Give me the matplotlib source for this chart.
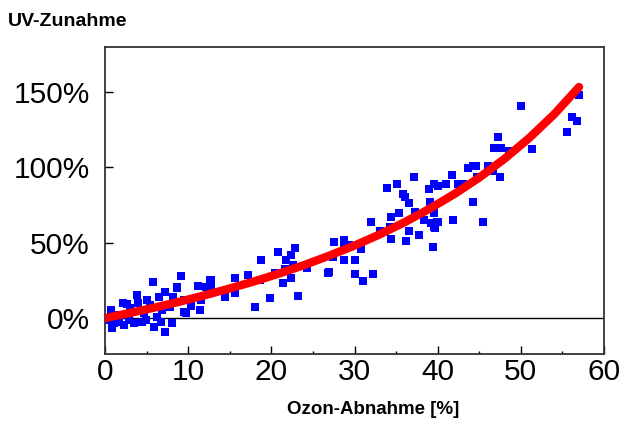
import matplotlib
matplotlib.use("Agg")
import matplotlib.pyplot as plt
from matplotlib.ticker import MultipleLocator, FuncFormatter

# Messpunkte: Ozon-Abnahme [%] vs. UV-Zunahme [%]
ozon = [5.8, 9.1, 8.7, 11.2, 12.6, 12.7, 3.9, 2.2, 4.0, 5.4, 6.5, 7.2, 8.2, 9.5,
        11.5, 11.4, 9.7, 6.9, 6.3, 4.7, 0.7, 1.1, 1.7, 2.9, 4.4, 5.9, 7.2, 8.1,
        0.9, 2.3, 3.5, 4.9, 6.7, 9.5, 8.6, 1.5, 3.0, 0.4, 2.6, 5.0, 7.8, 10.3,
        18.7, 20.8, 22.8, 21.8, 22.4, 22.6, 21.6, 24.3, 26.8, 20.4, 17.2, 15.6,
        12.8, 12.2, 15.6, 14.4, 21.4, 22.4, 18.6, 19.8, 23.2, 18.0,
        37.1, 35.1, 33.9, 35.8, 36.1, 36.5, 38.9, 39.6, 40.0, 39.1, 35.3, 34.4,
        32.0, 37.3, 38.3, 39.2, 39.9, 39.7, 34.3, 33.1, 36.6, 37.7, 34.4, 36.2,
        39.4, 27.5, 28.7, 29.3, 28.7, 30.8, 28.7, 30.1, 27.4, 26.9, 30.1, 31.0, 32.2,
        50.0, 57.0, 56.1, 56.7, 55.6, 51.4, 47.2, 46.8, 47.6, 48.6, 43.7, 44.2,
        44.6, 46.1, 46.7, 44.7, 47.5, 41.7, 41.0, 42.5, 43.0, 44.3, 41.8, 45.5,
        39.5, 40.0, 39.5]
uv = [24, 27.8, 20.7, 21.4, 25, 20.7, 15.2, 9.7, 9.7, 8.6, 14.1, 17, 13.7, 11.9,
      11.9, 5.3, 3.1, 5.3, 0.9, 3.1, 5.3, -3.5, -2.4, -1.3, -2.4, -5.8, -9.1, -3.5,
      -6.8, -4.6, -3.5, -1.3, -2.4, 4.2, 19.7, 2.0, 6.5, -1.0, 9.5, 12, 7.0, 8.0,
      38.4, 43.5, 46.2, 38.4, 41.7, 35.1, 32.2, 32.9, 30, 29.6, 28.5, 26.7,
      25.2, 20.7, 16.8, 14.1, 23, 26.3, 25.2, 13.4, 14.6, 7.5,
      93.6, 88.7, 86.3, 81.9, 80.3, 76, 85.2, 88.7, 87.4, 77, 69.7, 67.1,
      63.8, 70, 64.9, 62.7, 63.8, 59.4, 60.5, 57.8, 57.8, 55, 52.3, 51.2,
      46.8, 50.5, 51.7, 48.3, 46.8, 45.5, 38.4, 38.4, 40.6, 30.3, 28.9, 24.5, 28.9,
      140.4, 147.7, 133.3, 130.7, 123.4, 111.7, 120, 112.8, 112.8, 110.6, 99.5, 100.7,
      100.7, 100.7, 97.6, 93.6, 93.6, 94.7, 88.7, 88.7, 88.7, 77, 64.9, 63.4,
      69.3, 63.8, 60.5]

# Ausgleichskurve
kurve_x = [0, 3, 6, 9, 12, 15, 18, 21, 24, 27, 30, 33, 36, 39, 42, 45, 48, 51, 54, 57]
kurve_y = [0, 3.4, 7.0, 10.9, 15.1, 19.6, 24.4, 29.6, 35.2, 41.4, 48.0, 55.3,
           63.4, 72.3, 82.1, 93.0, 105.3, 119.2, 134.9, 153.0]

y_ticks = [0, 50, 100, 150]

fig = plt.figure(figsize=(6.22, 4.21), dpi=100)
ax = fig.add_axes([105/622, 1 - 354/421, 499/622, 307/421])

ax.axhline(0, color="black", linewidth=1, zorder=1)
ax.scatter(ozon, uv, marker="s", s=28, color="#0000ff", linewidths=0, zorder=2)
ax.plot(kurve_x, kurve_y, color="#ff0000", linewidth=6, solid_capstyle="round", zorder=3)

ax.set_xlim(0, 60)
ax.set_ylim(-23.8, 179.5)
ax.xaxis.set_major_locator(MultipleLocator(10))
ax.xaxis.set_minor_locator(MultipleLocator(5))
ax.set_yticks(y_ticks)
ax.yaxis.set_major_formatter(FuncFormatter(lambda v, p: "%d%%" % v))

for lab in ax.get_xticklabels() + ax.get_yticklabels():
    lab.set_fontfamily("Liberation Sans")
ax.tick_params(axis="x", which="major", direction="in", length=6, width=1, pad=3, labelsize=21.5)
ax.tick_params(axis="x", which="minor", direction="in", length=2.5, width=1)
ax.tick_params(axis="y", which="major", direction="in", length=6, width=1, pad=11, labelsize=21.5)
for sp in ax.spines.values():
    sp.set_linewidth(1.3)
    sp.set_color("#333333")

fig.text(8/622, 1 - 22/421, "UV-Zunahme", family="Liberation Sans", weight="bold",
         fontsize=14, ha="left", va="center")
fig.text(373/622, 1 - 409/421, "Ozon-Abnahme [%]", family="Liberation Sans", weight="bold",
         fontsize=13.5, ha="center", va="center")

fig.savefig("out.png", dpi=100)
